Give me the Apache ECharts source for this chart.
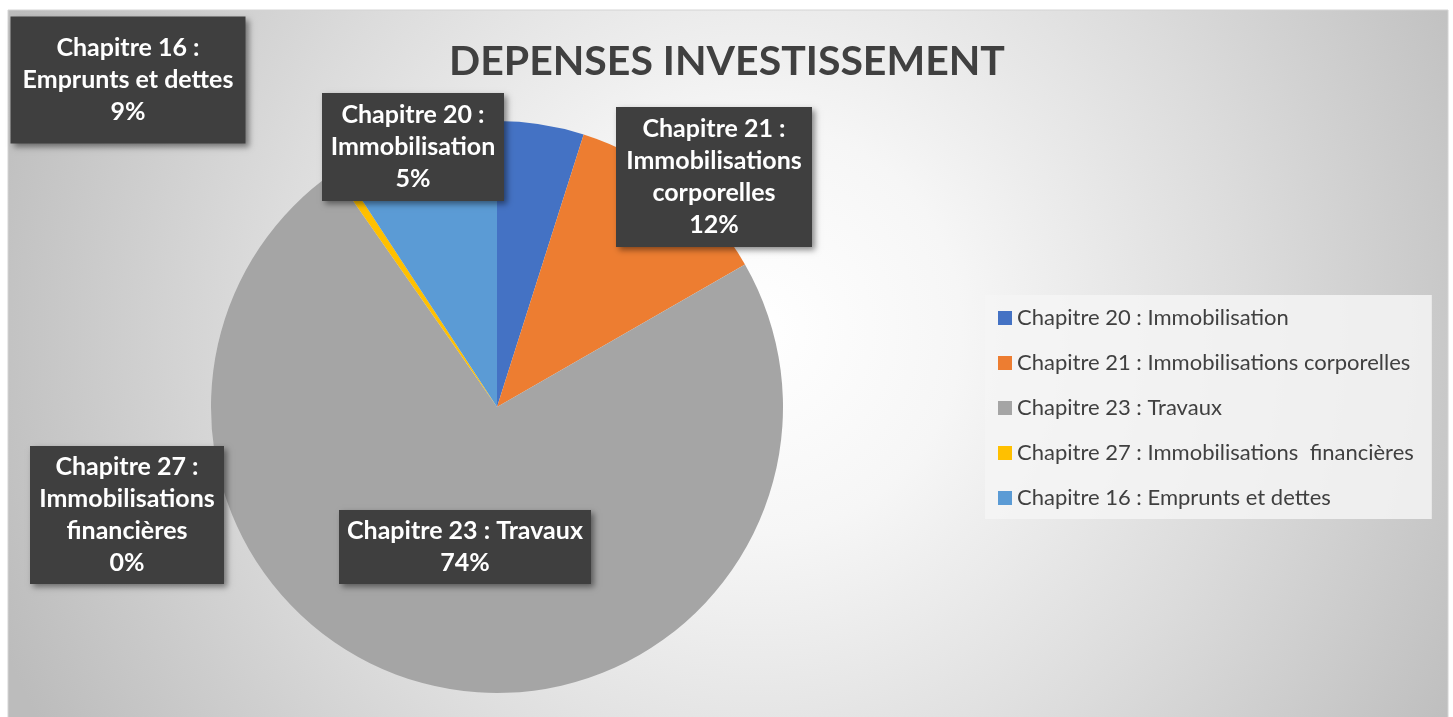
<!DOCTYPE html>
<html>
<head>
<meta charset="utf-8">
<script src="https://cdn.jsdelivr.net/npm/echarts@6/dist/echarts.min.js"></script>
<style>
  html, body { margin: 0; padding: 0; background: #fff; }
  #chart { width: 1453px; height: 717px; }
</style>
</head>
<body>
<div id="chart"></div>
<script>
// données (en %)
const categories = [
  'Chapitre 20 : Immobilisation',
  'Chapitre 21 : Immobilisations corporelles',
  'Chapitre 23 : Travaux',
  'Chapitre 27 : Immobilisations  financières',
  'Chapitre 16 : Emprunts et dettes'
]
const values = [4.9, 11.8, 73.6, 0.5, 9.2]
// texte des étiquettes (sans le pourcentage)
const labelTexts = [
  'Chapitre 20 :\nImmobilisation',
  'Chapitre 21 :\nImmobilisations\ncorporelles',
  'Chapitre 23 : Travaux',
  'Chapitre 27 :\nImmobilisations\nfinancières',
  'Chapitre 16 :\nEmprunts et dettes'
]
const colors = ['#4472C4', '#ED7D31', '#A5A5A5', '#FFC000', '#5B9BD5']

// position des boîtes d'étiquettes : [cx, cy, largeur, hauteur]
const labelBoxes = [
  [413, 147, 182, 108],
  [714, 177, 196, 140],
  [465, 547, 252, 74],
  [127, 515, 194, 138],
  [128, 80, 235, 127]
]

const chart = echarts.init(document.getElementById('chart'))

const option = {
  animation: false,
  color: colors,
  title: {
    text: 'DEPENSES INVESTISSEMENT',
    left: 722,
    top: 36,
    textAlign: 'center',
    textStyle: {
      fontFamily: 'Lato',
      fontWeight: 'bold',
      fontSize: 41,
      color: '#404040'
    }
  },
  graphic: [
    {
      type: 'rect',
      z: -10,
      shape: { x: 8, y: 10, width: 1440, height: 710 },
      style: {
        fill: {
          type: 'radial',
          x: 0.52,
          y: 0.45,
          r: 1.15,
          colorStops: [
            { offset: 0, color: '#ffffff' },
            { offset: 0.25, color: '#f6f6f6' },
            { offset: 0.6, color: '#dcdcdc' },
            { offset: 1, color: '#bcbcbc' }
          ]
        },
        stroke: '#d4d4d4',
        lineWidth: 1
      }
    }
  ],
  legend: {
    orient: 'vertical',
    left: 985,
    top: 295,
    padding: [12, 18, 10, 13],
    backgroundColor: 'rgba(244,244,244,0.85)',
    icon: 'rect',
    itemWidth: 14,
    itemHeight: 14,
    itemGap: 23,
    textStyle: {
      fontFamily: 'Lato',
      fontSize: 22,
      lineHeight: 20,
      color: '#404040'
    },
    data: categories
  },
  series: [
    {
      type: 'pie',
      center: [497, 407],
      radius: 286,
      startAngle: 90,
      clockwise: true,
      percentPrecision: 0,
      avoidLabelOverlap: false,
      data: categories.map((name, i) => ({
        name: name,
        value: values[i],
        label: { width: labelBoxes[i][2], height: labelBoxes[i][3] }
      })),
      label: {
        show: true,
        position: 'outside',
        formatter: (p) => labelTexts[p.dataIndex] + '\n' + p.percent + '%',
        fontFamily: 'Lato',
        fontWeight: 'bold',
        fontSize: 25,
        lineHeight: 32,
        color: '#fff',
        align: 'center',
        backgroundColor: '#3f3f3f',
        padding: 0,
        shadowColor: 'rgba(0,0,0,0.45)',
        shadowBlur: 6,
        shadowOffsetX: 3,
        shadowOffsetY: 3
      },
      labelLine: { show: false },
      labelLayout: (params) => {
        const b = labelBoxes[params.dataIndex]
        return { x: b[0], y: b[1], align: 'center', verticalAlign: 'middle' }
      },
      itemStyle: { borderWidth: 0 },
      emphasis: { disabled: true }
    }
  ]
}

chart.setOption(option)
</script>
</body>
</html>
